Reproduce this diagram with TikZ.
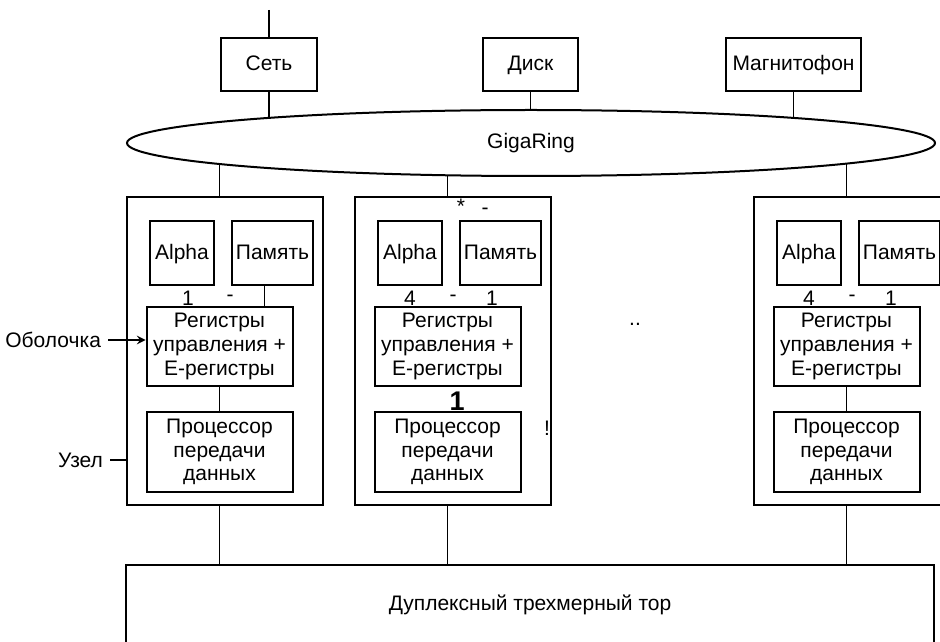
\documentclass[tikz,border=0pt]{standalone}
\usepackage{fontspec}
\setmainfont{Liberation Sans}
\usetikzlibrary{shapes.geometric,backgrounds}

\begin{document}
\begin{tikzpicture}[x=0.5pt, y=-0.5pt, >=stealth,
    font=\fontsize{10.5}{11.8}\selectfont,
    box/.style={draw, line width=1pt, inner sep=0pt, align=center, fill=white},
    single/.style={box, text height=1.6ex, text depth=.45ex},
    link/.style={line width=0.9pt}]
    \useasboundingbox (0,0) rectangle (940,641);

    \coordinate (feed) at (269,10);
    \node[single, minimum width=48pt, minimum height=26.5pt] (net) at (269,64.5) {Сеть};
    \node[single, minimum width=47.5pt, minimum height=26.5pt] (disk) at (530.5,64.5) {Диск};
    \node[single, minimum width=67.5pt, minimum height=26.5pt] (tape) at (793.5,64.5) {Магнитофон};
    \node[draw, ellipse, line width=1pt, fill=white, inner sep=0pt,
          minimum width=404pt, minimum height=33pt] (ring) at (531,143) {GigaRing};
    \node[box, minimum width=404pt, minimum height=40pt] (torus) at (530,605) {Дуплексный трехмерный тор};

    \draw[link] (feed) -- (net);
    \begin{scope}[on background layer]
        \draw[link] (net) -- (net |- ring);
        \draw[link] (disk) -- (disk |- ring);
        \draw[link] (tape) -- (tape |- ring);
    \end{scope}

    \foreach \o/\i in {127/1, 355/2, 754/3} {
        \node[box, minimum width=98pt, minimum height=154pt] (node\i) at (\o+98,351) {};
        \node[single, minimum width=32pt, minimum height=32pt] (alpha\i) at (\o+55,253) {Alpha};
        \node[single, minimum width=40.5pt, minimum height=32pt] (mem\i) at (\o+145.5,253) {Память};
        \node[box, minimum width=73pt, minimum height=39.5pt] (reg\i) at (\o+92.5,346.5)
            {Регистры\\управления +\\E-регистры};
        \node[box, minimum width=73pt, minimum height=40pt] (proc\i) at (\o+92.5,452)
            {Процессор\\передачи\\данных};
        \begin{scope}[on background layer]
            \draw[link] (node\i.north -| reg\i) -- (reg\i |- ring);
            \draw[link] (node\i.south -| reg\i) -- (reg\i |- torus);
        \end{scope}
    }

    \draw[link] ([xshift=-4pt]mem1.south) -- ([xshift=-4pt]mem1.south |- reg1.north);
    \draw[link] (reg1) -- (proc1);
    \draw[link] (reg3) -- (proc3);

    \node (one1) at (188,298) {1};
    \node (dash1) at (230,298) {-};
    \foreach \o/\i in {355/2, 754/3} {
        \node (four\i) at (\o+55,298) {4};
        \node (dash\i) at (\o+98,298) {-};
        \node (one\i) at (\o+137,298) {1};
    }
    \node[font=\bfseries\fontsize{13.5}{13.5}\selectfont] (bold2) at (457,401) {1};
    \node (star2) at (461,206) {*};
    \node (tick2) at (485,211) {-};
    \node (bang2) at (547,428) {!};
    \node (dots) at (635,324) {..};

    \node[anchor=east] (shell) at (108,340) {Оболочка};
    \draw[link, ->] (shell) -- (shell -| reg1.west);
    \node[anchor=east] (uzel) at (110,460) {Узел};
    \draw[link] (uzel) -- (uzel -| node1.west);
\end{tikzpicture}
\end{document}
